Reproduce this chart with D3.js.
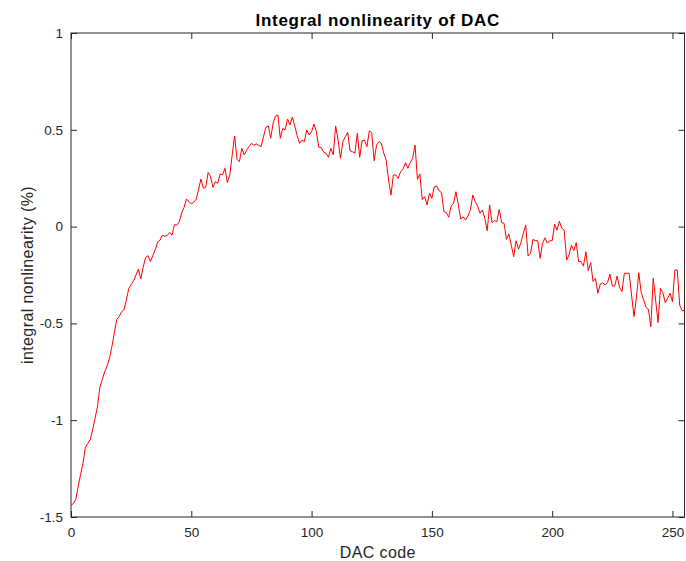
<!DOCTYPE html>
<html><head><meta charset="utf-8">
<script src="https://cdn.jsdelivr.net/npm/d3@7"></script>
<style>body{margin:0;background:#fff}svg{display:block}text{font-family:"Liberation Sans",Arial,sans-serif}</style>
</head><body><svg id="c" width="686" height="561"></svg>
<script>
const codes = d3.range(0, 256);
const inl = [
-1.44,-1.43,-1.41,-1.34,-1.28,-1.22,-1.14,-1.12,-1.10,-1.05,
-0.99,-0.93,-0.83,-0.79,-0.75,-0.72,-0.68,-0.62,-0.55,-0.48,
-0.465,-0.44,-0.43,-0.38,-0.32,-0.30,-0.28,-0.25,-0.22,-0.27,
-0.21,-0.16,-0.15,-0.18,-0.15,-0.12,-0.08,-0.07,-0.045,-0.05,
-0.045,-0.03,-0.045,0.01,0.008,0.025,0.07,0.10,0.142,0.13,
0.117,0.125,0.141,0.189,0.246,0.198,0.203,0.28,0.258,0.203,
0.232,0.224,0.272,0.267,0.301,0.227,0.267,0.37,0.468,0.348,
0.335,0.404,0.37,0.396,0.413,0.43,0.421,0.427,0.42,0.413,
0.464,0.513,0.52,0.456,0.534,0.571,0.576,0.456,0.508,0.499,
0.556,0.525,0.565,0.52,0.47,0.43,0.447,0.439,0.499,0.473,
0.49,0.53,0.49,0.41,0.408,0.384,0.379,0.358,0.404,0.37,
0.52,0.447,0.353,0.439,0.464,0.487,0.392,0.387,0.379,0.482,
0.358,0.444,0.447,0.413,0.495,0.485,0.34,0.421,0.439,0.43,
0.379,0.344,0.241,0.163,0.267,0.267,0.249,0.284,0.296,0.330,
0.301,0.33,0.353,0.421,0.244,0.272,0.139,0.155,0.112,0.172,
0.146,0.206,0.210,0.185,0.175,0.077,0.072,0.048,0.106,0.12,
0.18,0.112,0.038,0.051,0.034,0.055,0.086,0.163,0.129,0.106,
0.069,0.086,0.043,-0.021,0.112,0.02,0.031,0.025,0.089,0.02,
0.017,-0.066,-0.038,-0.095,-0.155,-0.073,-0.117,-0.083,-0.035,0.008,
-0.152,-0.138,-0.066,-0.073,-0.073,-0.164,-0.086,-0.058,-0.086,-0.073,
-0.073,0.013,-0.018,0.028,-0.009,-0.018,-0.173,-0.147,-0.095,-0.124,
-0.083,-0.181,-0.181,-0.204,-0.13,-0.228,-0.186,-0.284,-0.267,-0.344,
-0.296,-0.29,-0.302,-0.29,-0.245,-0.307,-0.307,-0.255,-0.314,-0.336,
-0.241,-0.241,-0.241,-0.353,-0.465,-0.37,-0.238,-0.341,-0.379,-0.417,
-0.427,-0.517,-0.267,-0.379,-0.496,-0.319,-0.341,-0.393,-0.37,-0.344,
-0.388,-0.224,-0.224,-0.405,-0.434,-0.434
];
const xTicks = [0, 50, 100, 150, 200, 250];
const yTicks = [-1.5, -1, -0.5, 0, 0.5, 1];
const titleText = "Integral nonlinearity of DAC";
const xLabel = "DAC code";
const yLabel = "integral nonlinearity (%)";

const W = 686, H = 561;
const m = {left: 71, right: 1.5, top: 33, bottom: 44};
const svg = d3.select("#c");
const x = d3.scaleLinear().domain([0, 255]).range([m.left, W - m.right]);
const y = d3.scaleLinear().domain([-1.5, 1]).range([H - m.bottom, m.top]);
const fmt = d => String(d);
const axisCol = "#262626";

function styleAxis(g){
  g.select(".domain").remove();
  g.selectAll("line").attr("stroke", axisCol);
  g.selectAll("text").attr("fill", "#262626").style("font-size", "13.5px");
}
svg.append("g").attr("transform", `translate(0,${H - m.bottom})`)
  .call(d3.axisBottom(x).tickValues(xTicks).tickFormat(fmt).tickSizeInner(-6).tickPadding(10))
  .call(styleAxis);
svg.append("g").attr("transform", `translate(0,${m.top})`)
  .call(d3.axisTop(x).tickValues(xTicks).tickFormat("").tickSizeInner(-6))
  .call(styleAxis);
svg.append("g").attr("transform", `translate(${m.left},0)`)
  .call(d3.axisLeft(y).tickValues(yTicks).tickFormat(fmt).tickSizeInner(-6).tickPadding(8))
  .call(styleAxis);
svg.append("g").attr("transform", `translate(${W - m.right},0)`)
  .call(d3.axisRight(y).tickValues(yTicks).tickFormat("").tickSizeInner(-6))
  .call(styleAxis);

svg.append("rect").attr("x", m.left).attr("y", m.top)
  .attr("width", W - m.right - m.left).attr("height", H - m.bottom - m.top)
  .attr("fill", "none").attr("stroke", axisCol).attr("stroke-width", 1);

const line = d3.line().x((d, i) => x(codes[i])).y(d => y(d));
svg.append("path").datum(inl).attr("d", line)
  .attr("fill", "none").attr("stroke", "#ff0000").attr("stroke-width", 1);

svg.append("text").attr("x", (m.left + W - m.right) / 2).attr("y", 26)
  .attr("text-anchor", "middle").style("font-size", "17px").style("letter-spacing", "0.7px").style("font-weight", "bold")
  .attr("fill", "#000").text(titleText);
svg.append("text").attr("x", (m.left + W - m.right) / 2).attr("y", 557.5)
  .attr("text-anchor", "middle").style("font-size", "16px").style("letter-spacing", "0.4px").attr("fill", "#262626").text(xLabel);
svg.append("text").attr("transform", `translate(33,${(m.top + H - m.bottom) / 2}) rotate(-90)`)
  .attr("text-anchor", "middle").style("font-size", "16px").style("letter-spacing", "0.4px").attr("fill", "#262626").text(yLabel);
</script></body></html>
